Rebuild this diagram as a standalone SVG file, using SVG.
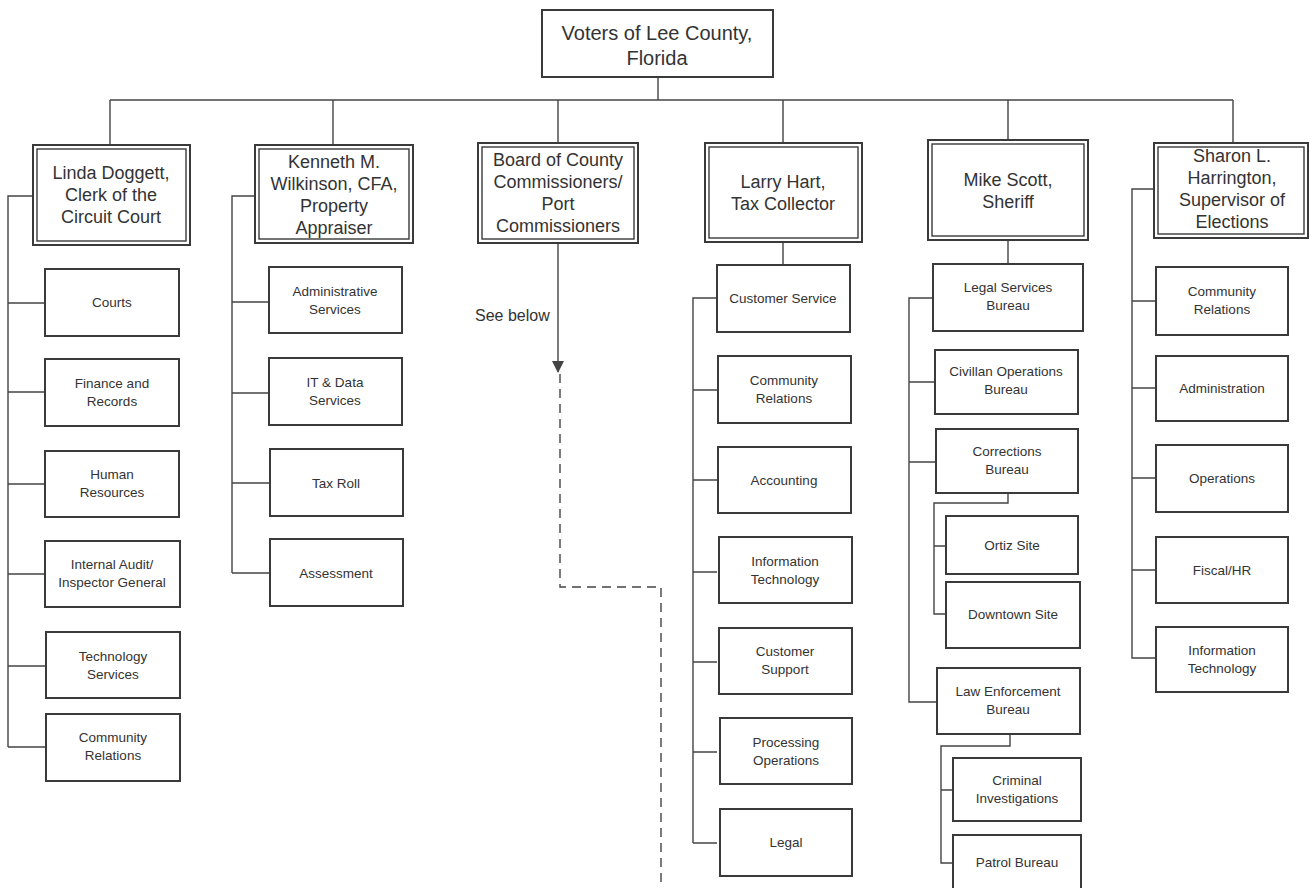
<svg xmlns="http://www.w3.org/2000/svg" width="1310" height="888" viewBox="0 0 1310 888">
<style>
  .bg{fill:#ffffff}
  .box{fill:#ffffff;stroke:#3a3a3a;stroke-width:2}
  .in{fill:none;stroke:#3a3a3a;stroke-width:1.4}
  .ln{fill:none;stroke:#444;stroke-width:1.4}
  .dash{fill:none;stroke:#444;stroke-width:1.4;stroke-dasharray:9 6}
  text{font-family:"Liberation Sans",Arial,sans-serif;fill:#333;text-anchor:middle}
  .t1{font-size:20px}
  .t2{font-size:18px}
  .t3{font-size:13.5px}
  .t4{font-size:16px;text-anchor:start}
</style>
<defs>
  <marker id="arr" markerWidth="12" markerHeight="12" refX="11" refY="6" orient="auto" markerUnits="userSpaceOnUse">
    <path d="M0,0 L12,6 L0,12 Z" fill="#444"/>
  </marker>
</defs>
<rect class="bg" x="0" y="0" width="1310" height="888"/>

<g id="connectors">
  <path class="ln" d="M658,77 V100 M110,100 H1233"/>
  <path class="ln" d="M110,100 V145 M333,100 V145 M558,100 V143 M783,100 V143 M1008,100 V140 M1233,100 V143"/>
  <path class="ln" d="M33,196 H8 V747 M8,303 H45 M8,392 H45 M8,484 H45 M8,574 H45 M8,666 H45 M8,747 H45"/>
  <path class="ln" d="M255,196 H232 V573 M232,302 H269 M232,393 H269 M232,483 H269 M232,573 H269"/>
  <path class="ln" d="M558,243 V372" marker-end="url(#arr)"/>
  <path class="dash" d="M560,374 V587 H661 V888"/>
  <path class="ln" d="M783,242 V265 M717,298 H693 V843 M693,390 H717 M693,480 H717 M693,572 H717 M693,662 H717 M693,752 H717 M693,843 H717"/>
  <path class="ln" d="M1008,240 V264 M933,298 H909 V702 H937 M909,382 H935 M909,462 H936"/>
  <path class="ln" d="M1008,493 V503 H934 V614 H946 M934,546 H946"/>
  <path class="ln" d="M1010,734 V746 H941 V863 H953 M941,790 H953"/>
  <path class="ln" d="M1154,189 H1132 V658 H1156 M1132,301 H1156 M1132,388 H1156 M1132,478 H1156 M1132,570 H1156"/>
</g>

<g id="voters">
  <rect class="box" x="542" y="10" width="231" height="67"/>
  <text class="t1" x="657" y="40">Voters of Lee County,</text>
  <text class="t1" x="657" y="65">Florida</text>
</g>

<g id="linda">
  <rect class="box" x="33" y="145" width="157" height="100"/>
  <rect class="in" x="37" y="149" width="149" height="92"/>
  <text class="t2" x="111" y="179">Linda Doggett,</text>
  <text class="t2" x="111" y="201">Clerk of the</text>
  <text class="t2" x="111" y="223">Circuit Court</text>
</g>
<g id="kenneth">
  <rect class="box" x="255" y="145" width="158" height="98"/>
  <rect class="in" x="259" y="149" width="150" height="90"/>
  <text class="t2" x="334" y="168">Kenneth M.</text>
  <text class="t2" x="334" y="190">Wilkinson, CFA,</text>
  <text class="t2" x="334" y="212">Property</text>
  <text class="t2" x="334" y="234">Appraiser</text>
</g>
<g id="board">
  <rect class="box" x="478" y="143" width="160" height="100"/>
  <rect class="in" x="482" y="147" width="152" height="92"/>
  <text class="t2" x="558" y="166">Board of County</text>
  <text class="t2" x="558" y="188">Commissioners/</text>
  <text class="t2" x="558" y="210">Port</text>
  <text class="t2" x="558" y="232">Commissioners</text>
</g>
<g id="larry">
  <rect class="box" x="705" y="143" width="157" height="99"/>
  <rect class="in" x="709" y="147" width="149" height="91"/>
  <text class="t2" x="783" y="188">Larry Hart,</text>
  <text class="t2" x="783" y="210">Tax Collector</text>
</g>
<g id="mike">
  <rect class="box" x="928" y="140" width="160" height="100"/>
  <rect class="in" x="932" y="144" width="152" height="92"/>
  <text class="t2" x="1008" y="186">Mike Scott,</text>
  <text class="t2" x="1008" y="208">Sheriff</text>
</g>
<g id="sharon">
  <rect class="box" x="1154" y="143" width="154" height="95"/>
  <rect class="in" x="1158" y="147" width="146" height="87"/>
  <text class="t2" x="1232" y="162">Sharon L.</text>
  <text class="t2" x="1232" y="184">Harrington,</text>
  <text class="t2" x="1232" y="206">Supervisor of</text>
  <text class="t2" x="1232" y="228">Elections</text>
</g>

<text class="t4" x="475" y="321">See below</text>

<g id="courts"><rect class="box" x="45" y="269" width="134" height="67"/><text class="t3" x="112" y="307">Courts</text></g>
<g id="finance"><rect class="box" x="45" y="359" width="134" height="67"/><text class="t3" x="112" y="388">Finance and</text><text class="t3" x="112" y="406">Records</text></g>
<g id="hr"><rect class="box" x="45" y="451" width="134" height="66"/><text class="t3" x="112" y="479">Human</text><text class="t3" x="112" y="497">Resources</text></g>
<g id="audit"><rect class="box" x="45" y="541" width="135" height="66"/><text class="t3" x="112" y="569">Internal Audit/</text><text class="t3" x="112" y="587">Inspector General</text></g>
<g id="techsvc"><rect class="box" x="46" y="632" width="134" height="66"/><text class="t3" x="113" y="661">Technology</text><text class="t3" x="113" y="679">Services</text></g>
<g id="commrel1"><rect class="box" x="46" y="714" width="134" height="67"/><text class="t3" x="113" y="742">Community</text><text class="t3" x="113" y="760">Relations</text></g>

<g id="adminsvc"><rect class="box" x="269" y="267" width="133" height="66"/><text class="t3" x="335" y="296">Administrative</text><text class="t3" x="335" y="314">Services</text></g>
<g id="itdata"><rect class="box" x="269" y="358" width="133" height="67"/><text class="t3" x="335" y="387">IT &amp; Data</text><text class="t3" x="335" y="405">Services</text></g>
<g id="taxroll"><rect class="box" x="270" y="449" width="133" height="67"/><text class="t3" x="336" y="488">Tax Roll</text></g>
<g id="assessment"><rect class="box" x="270" y="539" width="133" height="67"/><text class="t3" x="336" y="578">Assessment</text></g>

<g id="custsvc"><rect class="box" x="717" y="265" width="133" height="67"/><text class="t3" x="783" y="303">Customer Service</text></g>
<g id="commrel2"><rect class="box" x="718" y="356" width="133" height="67"/><text class="t3" x="784" y="385">Community</text><text class="t3" x="784" y="403">Relations</text></g>
<g id="accounting"><rect class="box" x="718" y="447" width="133" height="66"/><text class="t3" x="784" y="485">Accounting</text></g>
<g id="infotech1"><rect class="box" x="719" y="537" width="133" height="66"/><text class="t3" x="785" y="566">Information</text><text class="t3" x="785" y="584">Technology</text></g>
<g id="custsupport"><rect class="box" x="719" y="628" width="133" height="66"/><text class="t3" x="785" y="656">Customer</text><text class="t3" x="785" y="674">Support</text></g>
<g id="processing"><rect class="box" x="720" y="718" width="132" height="66"/><text class="t3" x="786" y="747">Processing</text><text class="t3" x="786" y="765">Operations</text></g>
<g id="legal"><rect class="box" x="720" y="809" width="132" height="67"/><text class="t3" x="786" y="847">Legal</text></g>

<g id="legalsvc"><rect class="box" x="933" y="264" width="150" height="67"/><text class="t3" x="1008" y="292">Legal Services</text><text class="t3" x="1008" y="310">Bureau</text></g>
<g id="civilian"><rect class="box" x="935" y="350" width="143" height="64"/><text class="t3" x="1006" y="376">Civillan Operations</text><text class="t3" x="1006" y="394">Bureau</text></g>
<g id="corrections"><rect class="box" x="936" y="429" width="142" height="64"/><text class="t3" x="1007" y="456">Corrections</text><text class="t3" x="1007" y="474">Bureau</text></g>
<g id="ortiz"><rect class="box" x="946" y="516" width="132" height="58"/><text class="t3" x="1012" y="550">Ortiz Site</text></g>
<g id="downtown"><rect class="box" x="946" y="582" width="134" height="66"/><text class="t3" x="1013" y="619">Downtown Site</text></g>
<g id="lawenf"><rect class="box" x="937" y="668" width="143" height="66"/><text class="t3" x="1008" y="696">Law Enforcement</text><text class="t3" x="1008" y="714">Bureau</text></g>
<g id="criminal"><rect class="box" x="953" y="758" width="128" height="63"/><text class="t3" x="1017" y="785">Criminal</text><text class="t3" x="1017" y="803">Investigations</text></g>
<g id="patrol"><rect class="box" x="953" y="835" width="128" height="60"/><text class="t3" x="1017" y="867">Patrol Bureau</text></g>

<g id="commrel3"><rect class="box" x="1156" y="267" width="132" height="68"/><text class="t3" x="1222" y="296">Community</text><text class="t3" x="1222" y="314">Relations</text></g>
<g id="administration"><rect class="box" x="1156" y="356" width="132" height="65"/><text class="t3" x="1222" y="393">Administration</text></g>
<g id="operations"><rect class="box" x="1156" y="445" width="132" height="67"/><text class="t3" x="1222" y="483">Operations</text></g>
<g id="fiscal"><rect class="box" x="1156" y="537" width="132" height="66"/><text class="t3" x="1222" y="575">Fiscal/HR</text></g>
<g id="infotech2"><rect class="box" x="1156" y="627" width="132" height="65"/><text class="t3" x="1222" y="655">Information</text><text class="t3" x="1222" y="673">Technology</text></g>
</svg>
